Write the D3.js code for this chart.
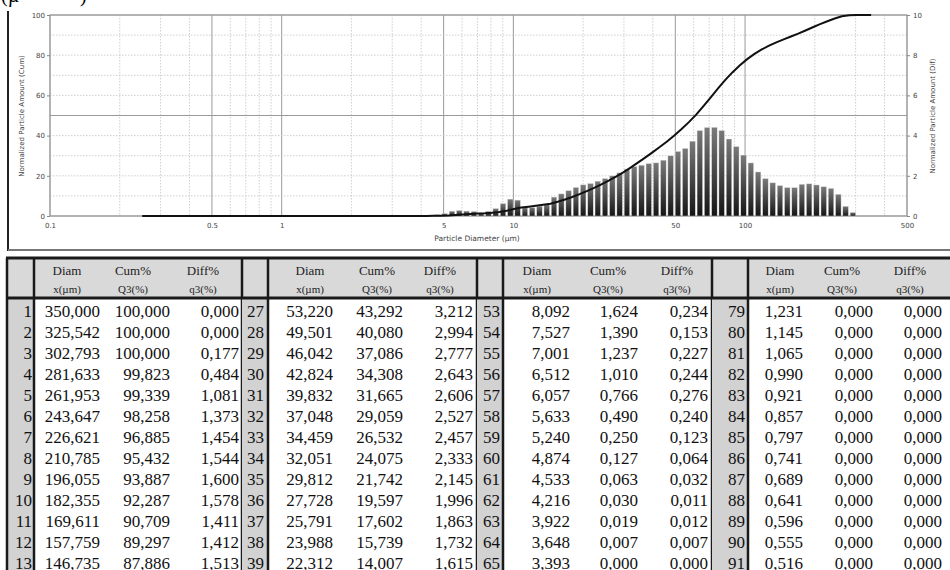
<!DOCTYPE html>
<html>
<head>
<meta charset="utf-8">
<script src="https://cdn.jsdelivr.net/npm/d3@7"></script>
<style>
  body { margin: 0; background: #fff; }
  svg { display: block; }
</style>
</head>
<body>
<script>
// particle size classes, x(µm), row 1 .. 101
const diam = [
  350.000, 325.542, 302.793, 281.633, 261.953, 243.647, 226.621, 210.785, 196.055, 182.355, 169.611, 157.759, 146.735,
  136.481, 126.944, 118.073, 109.822, 102.148, 95.010, 88.371, 82.196, 76.452, 71.110, 66.141, 61.519, 57.220,
  53.220, 49.501, 46.042, 42.824, 39.832, 37.048, 34.459, 32.051, 29.812, 27.728, 25.791, 23.988, 22.312,
  20.753, 19.303, 17.954, 16.699, 15.532, 14.447, 13.437, 12.498, 11.625, 10.813, 10.057, 9.354, 8.700,
  8.092, 7.527, 7.001, 6.512, 6.057, 5.633, 5.240, 4.874, 4.533, 4.216, 3.922, 3.648, 3.393,
  3.156, 2.935, 2.730, 2.539, 2.362, 2.197, 2.043, 1.901, 1.768, 1.644, 1.529, 1.423, 1.323,
  1.231, 1.145, 1.065, 0.990, 0.921, 0.857, 0.797, 0.741, 0.689, 0.641, 0.596, 0.555, 0.516,
  0.480, 0.447, 0.415, 0.386, 0.359, 0.334, 0.311, 0.289, 0.269, 0.250
];

// Cum% Q3(%)
const cum = [
  100.000, 100.000, 100.000, 99.823, 99.339, 98.258, 96.885, 95.432, 93.887, 92.287, 90.709, 89.297, 87.886,
  86.373, 84.723, 82.863, 80.673, 78.033, 75.003, 71.553, 67.723, 63.473, 59.063, 54.663, 50.413, 46.693,
  43.292, 40.080, 37.086, 34.308, 31.665, 29.059, 26.532, 24.075, 21.742, 19.597, 17.602, 15.739, 14.007,
  12.410, 10.860, 9.440, 8.180, 7.080, 6.140, 5.570, 5.080, 4.660, 4.240, 3.450, 2.610, 1.990,
  1.624, 1.390, 1.237, 1.010, 0.766, 0.490, 0.250, 0.127, 0.063, 0.030, 0.019, 0.007, 0.000,
  0.000, 0.000, 0.000, 0.000, 0.000, 0.000, 0.000, 0.000, 0.000, 0.000, 0.000, 0.000, 0.000,
  0.000, 0.000, 0.000, 0.000, 0.000, 0.000, 0.000, 0.000, 0.000, 0.000, 0.000, 0.000, 0.000,
  0.000, 0.000, 0.000, 0.000, 0.000, 0.000, 0.000, 0.000, 0.000, 0.000
];

// Diff% q3(%)
const diff = [
  0.000, 0.000, 0.177, 0.484, 1.081, 1.373, 1.454, 1.544, 1.600, 1.578, 1.411, 1.412, 1.513,
  1.650, 1.860, 2.190, 2.640, 3.030, 3.450, 3.830, 4.250, 4.410, 4.400, 4.250, 3.720, 3.360,
  3.212, 2.994, 2.777, 2.643, 2.606, 2.527, 2.457, 2.333, 2.145, 1.996, 1.863, 1.732, 1.615,
  1.550, 1.420, 1.260, 1.100, 0.940, 0.570, 0.490, 0.420, 0.420, 0.790, 0.840, 0.620, 0.370,
  0.234, 0.153, 0.227, 0.244, 0.276, 0.240, 0.123, 0.064, 0.032, 0.011, 0.012, 0.007, 0.000,
  0.000, 0.000, 0.000, 0.000, 0.000, 0.000, 0.000, 0.000, 0.000, 0.000, 0.000, 0.000, 0.000,
  0.000, 0.000, 0.000, 0.000, 0.000, 0.000, 0.000, 0.000, 0.000, 0.000, 0.000, 0.000, 0.000,
  0.000, 0.000, 0.000, 0.000, 0.000, 0.000, 0.000, 0.000, 0.000, 0.000
];

const xTicks = [0.1, 0.5, 1, 5, 10, 50, 100, 500];
const cumTicks = [0, 20, 40, 60, 80, 100];
const difTicks = [0, 2, 4, 6, 8, 10];

// table: first row of each visible block (rows 1, 27, 53, 79), 13 rows shown each
const blockStarts = [0, 26, 52, 78];
const rowsShown = 13;
const headTop = ["Diam", "Cum%", "Diff%"];
const headSub = ["x(\u00b5m)", "Q3(%)", "q3(%)"];

const svg = d3.select("body").append("svg")
    .attr("width", 950)
    .attr("height", 570);

// ---------- chart ----------
const plot = { left: 50, right: 907, top: 15, bottom: 216 };

const x = d3.scaleLog().domain([0.1, 500]).range([plot.left, plot.right]);
const yCum = d3.scaleLinear().domain([0, 100]).range([plot.bottom, plot.top]);
const yDif = d3.scaleLinear().domain([0, 10]).range([plot.bottom, plot.top]);

// cut text from the page above
svg.append("text").attr("x", 1).attr("y", 2)
    .style("font", "20px 'Liberation Serif'").text("(\u00b5");
svg.append("text").attr("x", 80).attr("y", 2)
    .style("font", "20px 'Liberation Serif'").text(")");

// frame of the chart picture
svg.append("line").attr("x1", 8).attr("x2", 8).attr("y1", 11).attr("y2", 251)
    .attr("stroke", "#222").attr("stroke-width", 2);
svg.append("line").attr("x1", 8).attr("x2", 950).attr("y1", 250).attr("y2", 250)
    .attr("stroke", "#777").attr("stroke-width", 2);

const grid = svg.append("g").attr("class", "grid");

x.ticks().forEach(t => {
    const lead = +t.toExponential().charAt(0);
    const major = lead === 1 || lead === 5;
    grid.append("line")
        .attr("x1", x(t)).attr("x2", x(t))
        .attr("y1", plot.top).attr("y2", plot.bottom)
        .attr("stroke", major ? "#9a9a9a" : "#c4c4c4")
        .attr("stroke-width", major ? 1 : 0.8)
        .attr("stroke-dasharray", major ? null : "1.5,1.5");
});

yCum.ticks(10).forEach(t => {
    const major = t === 0 || t === 50 || t === 100;
    grid.append("line")
        .attr("x1", plot.left).attr("x2", plot.right)
        .attr("y1", yCum(t)).attr("y2", yCum(t))
        .attr("stroke", major ? "#9a9a9a" : "#c4c4c4")
        .attr("stroke-width", major ? 1 : 0.8)
        .attr("stroke-dasharray", major ? null : "1.5,1.5");
});

svg.append("rect")
    .attr("x", plot.left).attr("y", plot.top)
    .attr("width", plot.right - plot.left).attr("height", plot.bottom - plot.top)
    .attr("fill", "none").attr("stroke", "#999");

// bar gradient
const grad = svg.append("defs").append("linearGradient")
    .attr("id", "barGrad").attr("x1", 0).attr("y1", 0).attr("x2", 0).attr("y2", 1);
grad.append("stop").attr("offset", "0%").attr("stop-color", "#7a7a7a");
grad.append("stop").attr("offset", "100%").attr("stop-color", "#151515");

const barData = diff.map((v, i) => ({ i, v })).filter(d => d.v > 0);

svg.append("g").selectAll("rect")
    .data(barData)
    .enter().append("rect")
    .attr("x", d => x(diam[d.i + 1]) + 0.9)
    .attr("width", d => x(diam[d.i]) - x(diam[d.i + 1]) - 1.8)
    .attr("y", d => yDif(d.v))
    .attr("height", d => yDif(0) - yDif(d.v))
    .attr("fill", "url(#barGrad)")
    .attr("stroke", "#ddd")
    .attr("stroke-width", 0.4);

const cumLine = d3.line()
    .x(d => x(d[0]))
    .y(d => yCum(d[1]));

svg.append("path")
    .datum(diam.map((d, i) => [d, cum[i]]))
    .attr("d", cumLine)
    .attr("fill", "none")
    .attr("stroke", "#111")
    .attr("stroke-width", 2);

// axes
const axisFont = "7px 'DejaVu Sans'";

const xAxis = svg.append("g")
    .attr("transform", `translate(0,${plot.bottom})`)
    .call(d3.axisBottom(x).tickValues(xTicks).tickFormat(d => String(d)).tickSize(0).tickPadding(7));

const lAxis = svg.append("g")
    .attr("transform", `translate(${plot.left},0)`)
    .call(d3.axisLeft(yCum).tickValues(cumTicks).tickSize(3).tickPadding(2));

const rAxis = svg.append("g")
    .attr("transform", `translate(${plot.right},0)`)
    .call(d3.axisRight(yDif).tickValues(difTicks).tickSize(3).tickPadding(3));

[xAxis, lAxis, rAxis].forEach(a => {
    a.select(".domain").remove();
    a.selectAll("line").attr("stroke", "#888");
    a.selectAll("text").style("font", axisFont).attr("fill", "#444");
});

svg.append("text")
    .attr("x", 477).attr("y", 241)
    .attr("text-anchor", "middle")
    .style("font", "7.5px 'DejaVu Sans'").attr("fill", "#444")
    .text("Particle Diameter (\u00b5m)");

svg.append("text")
    .attr("transform", "translate(24,116) rotate(-90)")
    .attr("text-anchor", "middle")
    .style("font", "7px 'DejaVu Sans'").attr("fill", "#444")
    .text("Normalized Particle Amount (Cum)");

svg.append("text")
    .attr("transform", "translate(935,116) rotate(-90)")
    .attr("text-anchor", "middle")
    .style("font", "7px 'DejaVu Sans'").attr("fill", "#444")
    .text("Normalized Particle Amount (Dif)");

// ---------- table ----------
const blocks = [
    { idxL: 7,   idxR: 34,  idxX: 32,  diamR: 100, cumR: 170, difR: 239, right: 242, head: [67, 133, 203] },
    { idxL: 242, idxR: 268, idxX: 264, diamR: 333, cumR: 403, difR: 473, right: 477, head: [310, 377, 440] },
    { idxL: 477, idxR: 503, idxX: 500, diamR: 570, cumR: 638, difR: 708, right: 712, head: [537, 608, 677] },
    { idxL: 712, idxR: 748, idxX: 745, diamR: 803, cumR: 873, difR: 942, right: 960, head: [780, 842, 910] }
];

const tTop = 258, tHead = 298, rowH = 21, row1 = 311;
const fmt = v => d3.format(".3f")(v).replace(".", ",");

const table = svg.append("g").attr("class", "table");

table.append("rect")
    .attr("x", 7).attr("y", tTop).attr("width", 943).attr("height", tHead - tTop)
    .attr("fill", "#d9d9d9");

blocks.forEach((b, bi) => {
    table.append("rect")
        .attr("x", b.idxL).attr("y", tHead).attr("width", b.idxR - b.idxL).attr("height", 570 - tHead)
        .attr("fill", "#d2d2d2");

    b.head.forEach((hx, k) => {
        table.append("text").attr("x", hx).attr("y", 275)
            .attr("text-anchor", "middle")
            .style("font", "13px 'Liberation Serif'").attr("fill", "#222")
            .text(headTop[k]);
        table.append("text").attr("x", hx).attr("y", 293)
            .attr("text-anchor", "middle")
            .style("font", "11px 'Liberation Serif'").attr("fill", "#222")
            .text(headSub[k]);
    });

    const rows = d3.range(blockStarts[bi], blockStarts[bi] + rowsShown);
    const g = table.append("g").selectAll("g")
        .data(rows)
        .enter().append("g")
        .attr("transform", (r, k) => `translate(0,${row1 + k * rowH + 6})`)
        .style("font", "17px 'Liberation Serif'")
        .attr("fill", "#111")
        .attr("text-anchor", "end");

    g.append("text").attr("x", b.idxX).text(r => r + 1);
    g.append("text").attr("x", b.diamR).text(r => fmt(diam[r]));
    g.append("text").attr("x", b.cumR).text(r => fmt(cum[r]));
    g.append("text").attr("x", b.difR).text(r => fmt(diff[r]));

    [b.idxR, b.right].forEach(lx => {
        table.append("line")
            .attr("x1", lx).attr("x2", lx).attr("y1", tTop).attr("y2", 570)
            .attr("stroke", "#1a1a1a").attr("stroke-width", 2.5);
    });
});

table.append("line").attr("x1", 7).attr("x2", 7).attr("y1", tTop).attr("y2", 570)
    .attr("stroke", "#1a1a1a").attr("stroke-width", 2.5);
[tTop, tHead].forEach(ly => {
    table.append("line").attr("x1", 6).attr("x2", 950).attr("y1", ly).attr("y2", ly)
        .attr("stroke", "#1a1a1a").attr("stroke-width", 3);
});
</script>
</body>
</html>
